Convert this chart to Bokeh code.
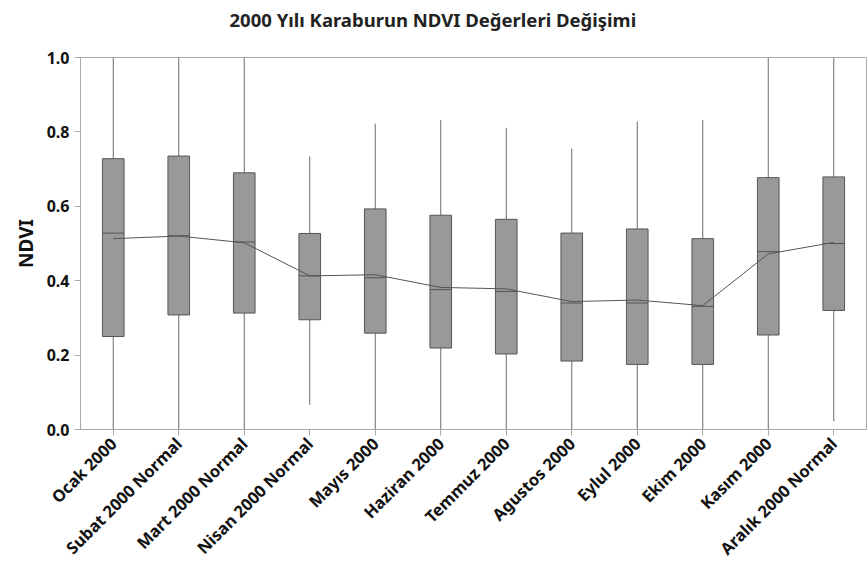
import math
from bokeh.plotting import figure
from bokeh.models import ColumnDataSource, PrintfTickFormatter, Title
from bokeh.transform import dodge
from bokeh.embed import file_html
from bokeh.resources import INLINE

title_text = "2000 Yılı Karaburun NDVI Değerleri Değişimi"
months = ["Ocak 2000", "Subat 2000 Normal", "Mart 2000 Normal", "Nisan 2000 Normal",
          "Mayıs 2000", "Haziran 2000", "Temmuz 2000", "Agustos 2000", "Eylul 2000",
          "Ekim 2000", "Kasım 2000", "Aralık 2000 Normal"]
whisker_low = [0.0, 0.0, 0.0, 0.066, 0.0, 0.0, 0.0, 0.0, 0.0, 0.0, 0.0, 0.022]
q1 = [0.250, 0.308, 0.313, 0.295, 0.259, 0.219, 0.203, 0.184, 0.175, 0.175, 0.254, 0.320]
median = [0.528, 0.521, 0.504, 0.413, 0.408, 0.376, 0.371, 0.340, 0.340, 0.331, 0.478, 0.500]
mean = [0.513, 0.520, 0.502, 0.413, 0.416, 0.382, 0.378, 0.344, 0.348, 0.333, 0.472, 0.503]
q3 = [0.728, 0.735, 0.690, 0.527, 0.593, 0.576, 0.565, 0.528, 0.539, 0.513, 0.677, 0.679]
whisker_high = [1.0, 1.0, 1.0, 0.734, 0.822, 0.832, 0.811, 0.755, 0.828, 0.832, 1.0, 1.0]

src = ColumnDataSource(dict(m=months, lo=whisker_low, q1=q1, med=median,
                            mean=mean, q3=q3, hi=whisker_high))

FONT = "Noto Sans"
p = figure(x_range=months, y_range=(0, 1.0), width=867, height=567,
           frame_width=786, frame_height=372, title=None,
           min_border_left=80, min_border_right=1, min_border_top=57, min_border_bottom=138,
           output_backend="svg", toolbar_location=None)

# spacer (closest to frame) then the real title above it
p.add_layout(Title(text=" ", text_font_size="10px", standoff=11), "above")
p.add_layout(Title(text=title_text, align="left", offset=149, vertical_align="top",
                   standoff=0, text_font=FONT, text_font_size="18.5px",
                   text_font_style="bold", text_color="#222222"), "above")

p.xgrid.visible = False
p.ygrid.visible = False
p.outline_line_color = "#aaaaaa"
p.background_fill_color = "white"

# whiskers
p.segment(x0="m", y0="q3", x1="m", y1="hi", source=src, line_color="#6a6a6a", line_width=1)
p.segment(x0="m", y0="lo", x1="m", y1="q1", source=src, line_color="#6a6a6a", line_width=1)
# boxes
p.vbar(x="m", bottom="q1", top="q3", width=0.33, source=src,
       fill_color="#999999", line_color="#555555", line_width=1)
# median
p.segment(x0=dodge("m", -0.165, range=p.x_range), y0="med",
          x1=dodge("m", 0.165, range=p.x_range), y1="med",
          source=src, line_color="#555555", line_width=1)
# mean line
p.line(x="m", y="mean", source=src, line_color="#555555", line_width=1)

p.yaxis.axis_label = "NDVI"
p.yaxis.axis_label_text_font = FONT
p.yaxis.axis_label_text_font_size = "19px"
p.yaxis.axis_label_text_font_style = "bold"
p.yaxis.axis_label_text_color = "#111111"
p.yaxis.ticker = [0.0, 0.2, 0.4, 0.6, 0.8, 1.0]
p.yaxis.minor_tick_line_color = None
p.yaxis.formatter = PrintfTickFormatter(format="%.1f")

for ax in (p.xaxis, p.yaxis):
    ax.axis_line_color = "#aaaaaa"
    ax.major_tick_line_color = "#aaaaaa"
    ax.major_tick_out = 6
    ax.major_tick_in = 0
    ax.major_label_text_font = FONT
    ax.major_label_text_font_style = "bold"
    ax.major_label_text_color = "#111111"

p.yaxis.major_label_text_font_size = "16px"
p.xaxis.major_label_text_font_size = "16.5px"
p.xaxis.major_label_orientation = math.pi / 4

open("out.html", "w").write(file_html(p, INLINE))
